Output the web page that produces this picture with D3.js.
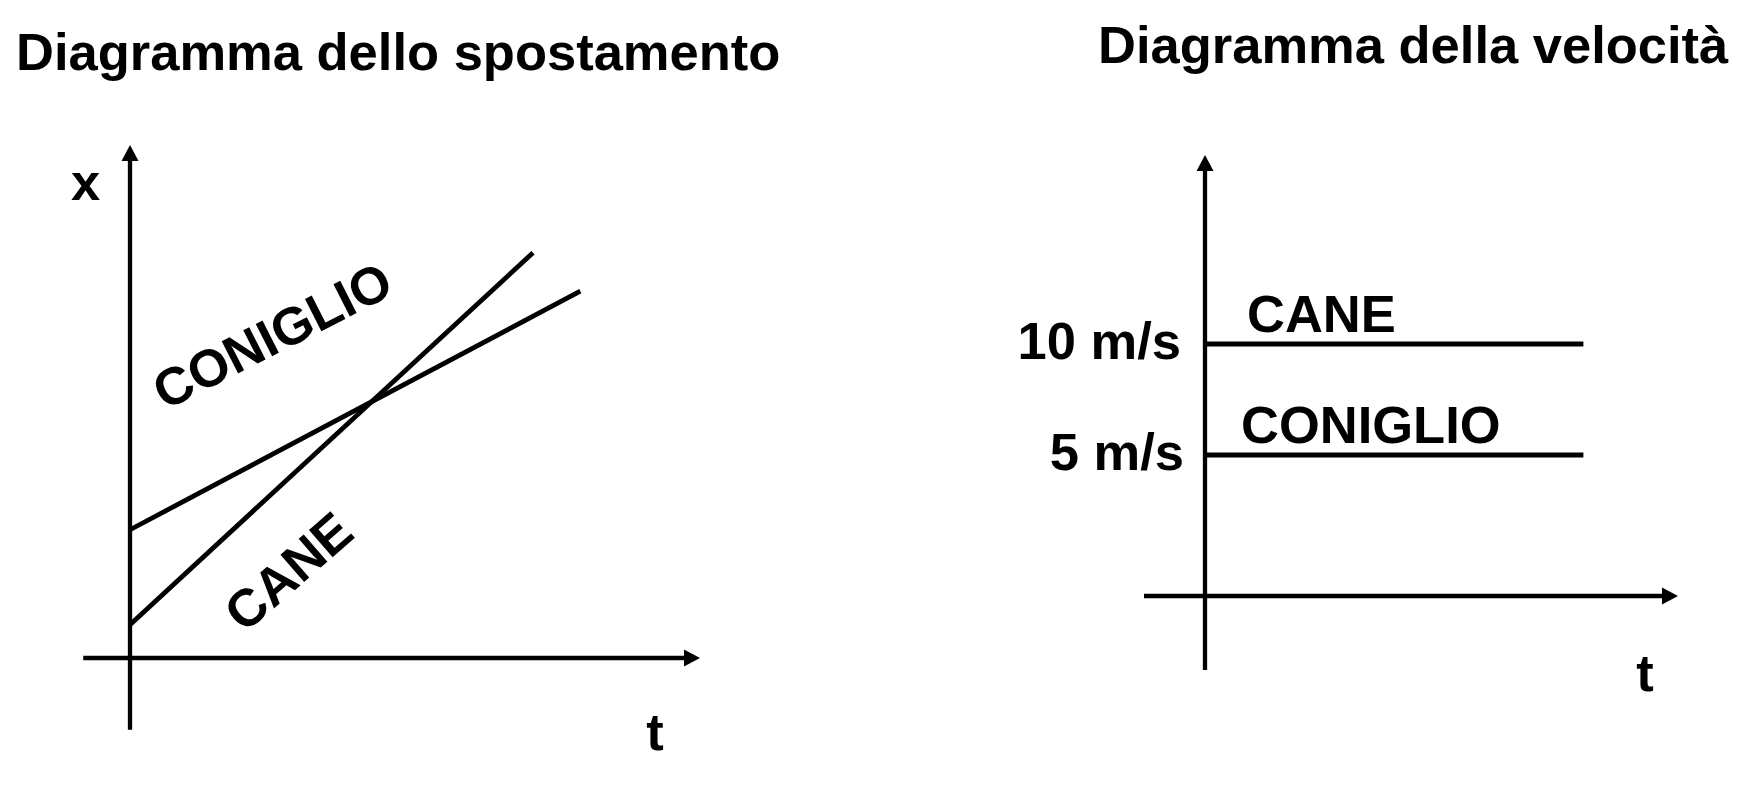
<!DOCTYPE html>
<html>
<head>
<meta charset="utf-8">
<script src="https://cdn.jsdelivr.net/npm/d3@7/dist/d3.min.js"></script>
<style>
  html, body { margin: 0; padding: 0; background: #fff; }
  svg { display: block; }
</style>
</head>
<body>
<svg id="chart" width="1742" height="786"></svg>
<script>
// ---------------- DATA ----------------
const titles = ["Diagramma dello spostamento", "Diagramma della velocità"];
const seriesNames = ["CONIGLIO", "CANE"];
// position diagram: [t, x] end points (arbitrary units)
const posConiglio = [[0, 2.5], [7.9, 7.15]];
const posCane = [[0, 0.65], [7.07, 7.9]];
// velocity diagram
const velValues = [5, 10];           // CONIGLIO, CANE (m/s)
const velTStart = 0;
const velTEnd = 8;
const velTickValues = [5, 10];
const velTickLabels = ["5 m/s", "10 m/s"];
const axisLabelsPos = ["t", "x"];
const axisLabelsVel = ["t"];

// ---------------- LAYOUT ----------------
const FONT = "'Liberation Sans', Arial, Helvetica, sans-serif";
const FS = 52.5;
const AXIS_W = 4.3, LINE_W = 4.8;
const svg = d3.select("#chart");

function arrowHead(g, x, y, dir) {
  const L = 16, W = 8.5;
  let pts;
  if (dir === "up") pts = [[x, y], [x - W, y + L], [x + W, y + L]];
  else pts = [[x, y], [x - L, y - W], [x - L, y + W]];
  g.append("path").attr("d", d3.line()(pts) + "Z").attr("fill", "#000");
}

// titles
svg.append("text").attr("x", 16).attr("y", 70).text(titles[0])
  .attr("font-family", FONT).attr("font-weight", "bold").attr("font-size", FS).attr("fill", "#000");
svg.append("text").attr("x", 1098).attr("y", 63).text(titles[1])
  .attr("font-family", FONT).attr("font-weight", "bold").attr("font-size", FS).attr("fill", "#000");

// ---------- Left: position diagram ----------
const tS = d3.scaleLinear().domain([0, 10]).range([130, 700]);
const xS = d3.scaleLinear().domain([0, 10]).range([658, 145]);
const gL = svg.append("g");

// axes
gL.append("line").attr("x1", tS(0)).attr("x2", tS(0)).attr("y1", xS(-1.4)).attr("y2", xS(10) + 12)
  .attr("stroke", "#000").attr("stroke-width", AXIS_W);
arrowHead(gL, tS(0), xS(10), "up");
gL.append("line").attr("x1", tS(-0.82)).attr("x2", tS(10) - 12).attr("y1", xS(0)).attr("y2", xS(0))
  .attr("stroke", "#000").attr("stroke-width", AXIS_W);
arrowHead(gL, tS(10), xS(0), "right");

const lineL = d3.line().x(d => tS(d[0])).y(d => xS(d[1]));
[posConiglio, posCane].forEach(s => {
  gL.append("path").attr("d", lineL(s)).attr("fill", "none")
    .attr("stroke", "#000").attr("stroke-width", LINE_W);
});

// rotated series labels
function rotLabel(g, cx, cy, angle, txt) {
  g.append("text").attr("transform", `translate(${cx},${cy}) rotate(${angle})`)
    .attr("text-anchor", "middle").attr("dy", "0.36em").text(txt)
    .attr("font-family", FONT).attr("font-weight", "bold").attr("font-size", FS).attr("fill", "#000");
}
rotLabel(gL, 272, 335, -27, seriesNames[0]);
rotLabel(gL, 288, 571, -41, seriesNames[1]);

// axis labels
gL.append("text").attr("x", 85.5).attr("y", 200).attr("text-anchor", "middle").text(axisLabelsPos[1])
  .attr("font-family", FONT).attr("font-weight", "bold").attr("font-size", FS);
gL.append("text").attr("x", 655).attr("y", 750).attr("text-anchor", "middle").text(axisLabelsPos[0])
  .attr("font-family", FONT).attr("font-weight", "bold").attr("font-size", FS);

// ---------- Right: velocity diagram ----------
const tS2 = d3.scaleLinear().domain([0, 10]).range([1205, 1678]);
const vS = d3.scaleLinear().domain([0, 5, 10]).range([596, 455, 344]);
const gR = svg.append("g");
const vAxisTop = 155, vAxisBottom = 670, tAxisLeft = 1144;

gR.append("line").attr("x1", tS2(0)).attr("x2", tS2(0)).attr("y1", vAxisBottom).attr("y2", vAxisTop + 12)
  .attr("stroke", "#000").attr("stroke-width", AXIS_W);
arrowHead(gR, tS2(0), vAxisTop, "up");
gR.append("line").attr("x1", tAxisLeft).attr("x2", tS2(10) - 12).attr("y1", vS(0)).attr("y2", vS(0))
  .attr("stroke", "#000").attr("stroke-width", AXIS_W);
arrowHead(gR, tS2(10), vS(0), "right");

// tick labels via d3 axis
const yAxis = d3.axisLeft(vS).tickValues(velTickValues).tickSize(0).tickPadding(24)
  .tickFormat((d, i) => velTickLabels[i]);
const ax = gR.append("g").attr("transform", `translate(${tS2(0)},0)`).call(yAxis);
ax.select(".domain").remove();
ax.selectAll("text").attr("dy", "0.27em")
  .attr("x", (d, i) => i === 0 ? -21 : -24)
  .attr("font-family", FONT).attr("font-weight", "bold").attr("font-size", FS).attr("fill", "#000");

// constant-velocity lines
const lineR = d3.line().x(d => tS2(d[0])).y(d => vS(d[1]));
velValues.forEach((v, i) => {
  gR.append("path").attr("d", lineR([[velTStart, v], [velTEnd, v]]))
    .attr("fill", "none").attr("stroke", "#000").attr("stroke-width", LINE_W);
});
const labelOffX = [36, 42];
velValues.forEach((v, i) => {
  gR.append("text").attr("x", tS2(0) + labelOffX[i]).attr("y", vS(v) - 12).text(seriesNames[i])
    .attr("font-family", FONT).attr("font-weight", "bold").attr("font-size", FS).attr("fill", "#000");
});

gR.append("text").attr("x", 1645).attr("y", 691).attr("text-anchor", "middle").text(axisLabelsVel[0])
  .attr("font-family", FONT).attr("font-weight", "bold").attr("font-size", FS);
</script>
</body>
</html>
